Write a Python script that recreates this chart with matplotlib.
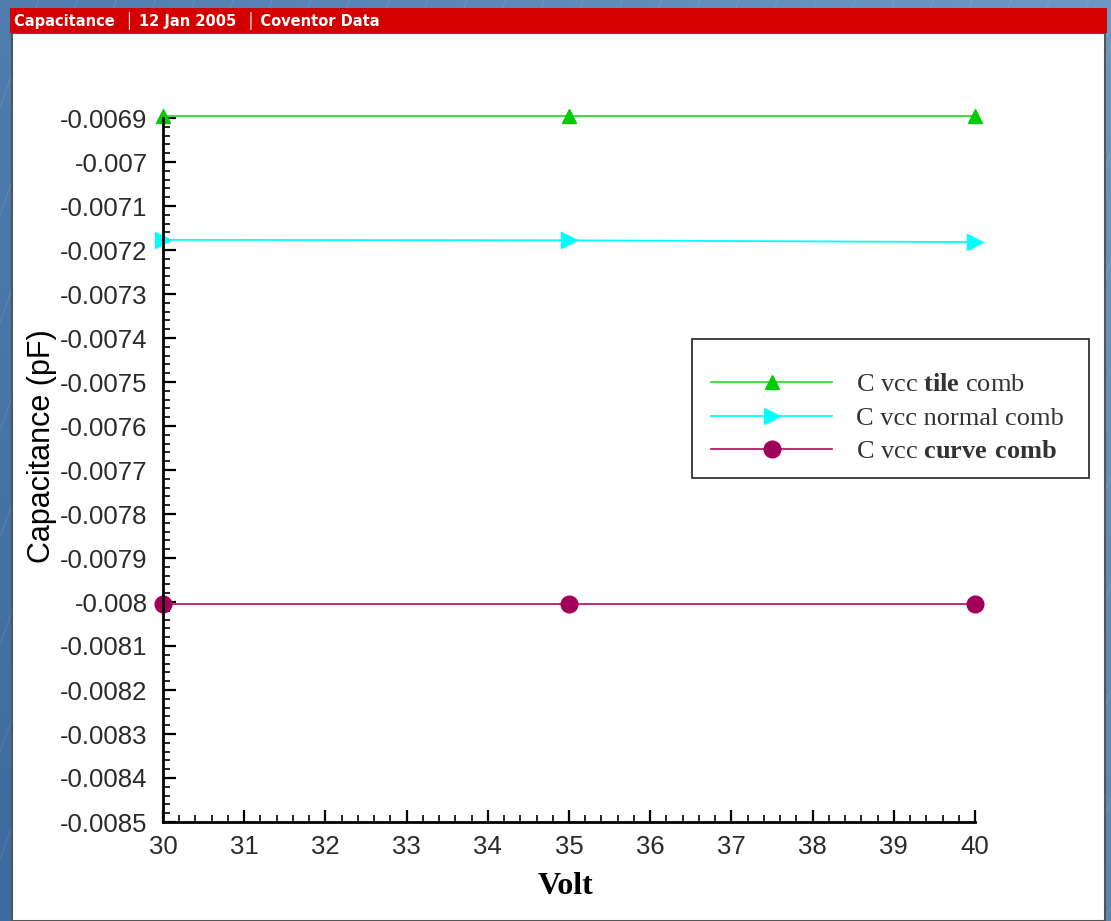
import numpy as np
import matplotlib
matplotlib.use("Agg")
import matplotlib.pyplot as plt
from matplotlib.patches import Rectangle
from matplotlib.ticker import MultipleLocator, AutoMinorLocator

plt.rcParams["mathtext.fontset"] = "custom"
plt.rcParams["mathtext.rm"] = "Liberation Serif"
plt.rcParams["mathtext.bf"] = "Liberation Serif:bold"

volt = [30, 35, 40]
c_tile = [-0.006895, -0.006895, -0.006895]
c_normal = [-0.007177, -0.007178, -0.007182]
c_curve = [-0.008005, -0.008005, -0.008005]

W, H = 1111, 921
fig = plt.figure(figsize=(W / 100, H / 100), dpi=100)

# blue desktop-ish background
bg = fig.add_axes([0, 0, 1, 1], zorder=-10)
gx = np.linspace(0, 1, 200)
gy = np.linspace(0, 1, 200)
grad = 0.6 * gx[None, :] + 0.4 * gy[:, None]
bg.imshow(grad, cmap=matplotlib.colors.LinearSegmentedColormap.from_list(
    "bgb", ["#3d6aa0", "#6a9ac4"]), extent=[0, 1, 0, 1], aspect="auto", origin="lower")
for k in np.arange(-1, 2, 0.035):
    bg.plot([k, k + 0.3], [0, 1], color="white", alpha=0.12, lw=0.6)
bg.set_xlim(0, 1); bg.set_ylim(0, 1)
bg.axis("off")

def fx(px):
    return px / W

def fy(py):
    return 1 - py / H

# window panel and red title bar
fig.patches.append(Rectangle((fx(12), 0), fx(1105) - fx(12), fy(33),
                             transform=fig.transFigure, facecolor="white",
                             edgecolor="#555555", lw=1.5, zorder=-5))
fig.patches.append(Rectangle((fx(10), fy(33)), fx(1107) - fx(10), fy(8) - fy(33),
                             transform=fig.transFigure, facecolor="#d40000",
                             edgecolor="none", zorder=-4))
fig.text(fx(14), fy(20), "Capacitance  \u2502 12 Jan 2005  \u2502 Coventor Data",
         color="white", fontsize=10.5, fontweight="bold", va="center", ha="left",
         family="DejaVu Sans")

ax = fig.add_axes([fx(163), fy(822), fx(975) - fx(163), fy(118) - fy(822)])
ax.set_xlim(30, 40)
ax.set_ylim(-0.0085, -0.0069)

ax.plot(volt, c_tile, color="#33dd33", lw=1.3, marker="^", ms=10,
        mfc="#00cc00", mec="#00cc00", clip_on=False,
        label=r"C vcc $\mathbf{tile}$ comb")
ax.plot(volt, c_normal, color="#00ffff", lw=1.3, marker=">", ms=11,
        mfc="#00ffff", mec="#00ffff", clip_on=False,
        label="C vcc normal comb")
ax.plot(volt, c_curve, color="#c0186e", lw=1.3, marker="o", ms=12,
        mfc="#a0005a", mec="#a0005a", clip_on=False,
        label=r"C vcc $\mathbf{curve\ comb}$")

for s in ("top", "right"):
    ax.spines[s].set_visible(False)
for s in ("left", "bottom"):
    ax.spines[s].set_linewidth(2)

ax.xaxis.set_major_locator(MultipleLocator(1))
ax.xaxis.set_minor_locator(AutoMinorLocator(5))
ax.yaxis.set_major_locator(MultipleLocator(0.0001))
ax.yaxis.set_minor_locator(AutoMinorLocator(5))
ax.tick_params(which="major", direction="in", length=9, width=1.6,
               labelsize=18.5, pad=9)
ax.tick_params(which="minor", direction="in", length=5, width=1.2)
ax.tick_params(axis="y", pad=11)
for lab in ax.get_xticklabels() + ax.get_yticklabels():
    lab.set_family("Liberation Sans")
    lab.set_color("#2a2a2a")

ax.yaxis.set_major_formatter(matplotlib.ticker.FuncFormatter(
    lambda v, p: ("%.4f" % v).rstrip("0")))

fig.text(fx(42), fy(446), "Capacitance (pF)", rotation=90, fontsize=22,
         family="Liberation Sans", ha="center", va="center")
fig.text(fx(565), fy(886), "Volt", fontsize=23, fontweight="bold",
         family="Liberation Serif", ha="center", va="center")

# legend box drawn separately (more room above the entries than below)
box = Rectangle((fx(692), fy(478)), fx(1089) - fx(692), fy(339) - fy(478),
                transform=fig.transFigure, facecolor="white",
                edgecolor="#333333", lw=1.3, zorder=4, clip_on=False)
ax.add_artist(box)
leg = ax.legend(loc="upper left", bbox_to_anchor=(fx(711), fy(373)),
                bbox_transform=fig.transFigure,
                prop={"family": "Liberation Serif", "size": 19},
                handlelength=4.6, handletextpad=0.9, labelspacing=0.38,
                borderpad=0, frameon=False, borderaxespad=0)
leg.set_zorder(6)
for t in leg.get_texts():
    t.set_color("#333333")

fig.savefig("out.png", dpi=100)
